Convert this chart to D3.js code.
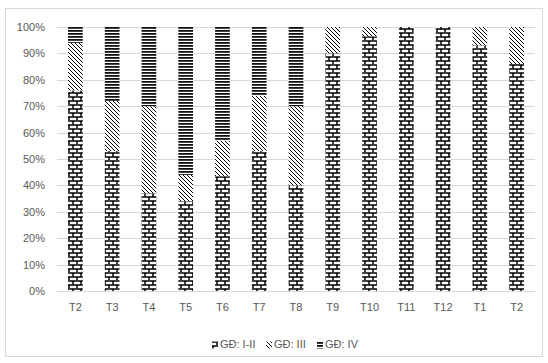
<!DOCTYPE html>
<html>
<head>
<meta charset="utf-8">
<script src="https://cdn.jsdelivr.net/npm/d3@7/dist/d3.min.js"></script>
<style>
  html, body { margin: 0; padding: 0; background: #fff; }
  svg { display: block; }
  text { font-family: "Liberation Sans", "DejaVu Sans", sans-serif; fill: #595959; }
</style>
</head>
<body>
<svg id="chart" width="548" height="363"></svg>
<script>
// Categories (months) and stage shares, in percent
const categories = ["T2", "T3", "T4", "T5", "T6", "T7", "T8", "T9", "T10", "T11", "T12", "T1", "T2"];
const stageI_II = [76, 53, 37, 34, 43.5, 53, 40, 90, 96.5, 100, 100, 93, 86];
const stageIII  = [18, 19, 33, 10, 13.5, 21, 30, 10, 3.5, 0, 0, 7, 14];
const stageIV   = [6, 28, 30, 56, 43, 26, 30, 0, 0, 0, 0, 0, 0];
const seriesNames = ["GĐ: I-II", "GĐ: III", "GĐ: IV"];
const yTicks = [0, 10, 20, 30, 40, 50, 60, 70, 80, 90, 100];

const svg = d3.select("#chart");
const defs = svg.append("defs");

// Brick pattern
const brick = defs.append("pattern").attr("id", "pat-brick")
  .attr("patternUnits", "userSpaceOnUse").attr("width", 8).attr("height", 8);
brick.append("rect").attr("width", 8).attr("height", 8).attr("fill", "#fff");
brick.append("path")
  .attr("d", "M0,1H8 M0,5H8 M1,1V5 M5,5V9")
  .attr("stroke", "#000").attr("stroke-width", 1.5).attr("fill", "none");

// Downward diagonal hatch
const diag = defs.append("pattern").attr("id", "pat-diag")
  .attr("patternUnits", "userSpaceOnUse").attr("width", 4).attr("height", 4);
diag.append("rect").attr("width", 4).attr("height", 4).attr("fill", "#fff");
diag.append("path")
  .attr("d", "M-1,-1L5,5 M-1,3L1,5 M3,-1L5,1")
  .attr("stroke", "#000").attr("stroke-width", 1).attr("fill", "none");

// Horizontal line pattern
const horiz = defs.append("pattern").attr("id", "pat-horiz")
  .attr("patternUnits", "userSpaceOnUse").attr("width", 8).attr("height", 3);
horiz.append("rect").attr("width", 8).attr("height", 3).attr("fill", "#fff");
horiz.append("rect").attr("y", 0).attr("width", 8).attr("height", 1.8).attr("fill", "#111");

const fills = ["url(#pat-brick)", "url(#pat-diag)", "url(#pat-horiz)"];

// Chart area border
svg.append("rect")
  .attr("x", 5.5).attr("y", 8.5).attr("width", 537).attr("height", 348)
  .attr("fill", "#fff").attr("stroke", "#d9d9d9").attr("stroke-width", 1);

const plot = { left: 57, right: 535, top: 27, bottom: 291 };

const x = d3.scaleBand()
  .domain(d3.range(categories.length))
  .range([plot.left, plot.right])
  .paddingInner(0.6).paddingOuter(0.3);

const y = d3.scaleLinear().domain([0, 100]).range([plot.bottom, plot.top]);

// Gridlines
svg.append("g").selectAll("line").data(yTicks).join("line")
  .attr("x1", plot.left).attr("x2", plot.right)
  .attr("y1", d => Math.round(y(d)) + 0.5).attr("y2", d => Math.round(y(d)) + 0.5)
  .attr("stroke", "#d9d9d9").attr("stroke-width", 1);

// Y axis labels
const yAxis = d3.axisLeft(y).tickValues(yTicks).tickFormat(d => d + "%").tickSize(0).tickPadding(0);
svg.append("g").attr("transform", "translate(45,0)").call(yAxis)
  .attr("color", "#595959")
  .attr("font-family", "'Liberation Sans', sans-serif")
  .attr("font-size", 11)
  .call(g => g.select(".domain").remove());

// X axis labels
const xAxis = d3.axisBottom(x).tickFormat(i => categories[i]).tickSize(0).tickPadding(0);
svg.append("g").attr("transform", `translate(0,${plot.bottom + 17})`).call(xAxis)
  .attr("color", "#595959")
  .attr("font-family", "'Liberation Sans', sans-serif")
  .attr("font-size", 11)
  .call(g => g.select(".domain").remove())
  .selectAll("text").attr("dy", "0").attr("y", 0).attr("dominant-baseline", "middle");

// Stacked bars
const rows = categories.map((c, i) => ({ i, s0: stageI_II[i], s1: stageIII[i], s2: stageIV[i] }));
const stack = d3.stack().keys(["s0", "s1", "s2"]);
const layers = stack(rows);

svg.append("g").selectAll("g").data(layers).join("g")
  .attr("fill", (d, k) => fills[k])
  .selectAll("rect").data(d => d).join("rect")
  .attr("x", d => x(d.data.i))
  .attr("width", x.bandwidth())
  .attr("y", d => y(d[1]))
  .attr("height", d => y(d[0]) - y(d[1]));

// Legend
const legendItems = [
  { name: seriesNames[0], fill: fills[0], x: 212 },
  { name: seriesNames[1], fill: fills[1], x: 266 },
  { name: seriesNames[2], fill: fills[2], x: 317 }
];
const lg = svg.append("g").attr("transform", "translate(0,345)");
const li = lg.selectAll("g").data(legendItems).join("g")
  .attr("transform", d => `translate(${d.x},0)`);
li.append("rect").attr("x", 0).attr("y", -3.5).attr("width", 6).attr("height", 7)
  .attr("fill", d => d.fill);
li.append("text").attr("x", 8).attr("y", 0).attr("dominant-baseline", "middle")
  .attr("font-size", 11).text(d => d.name);
</script>
</body>
</html>
